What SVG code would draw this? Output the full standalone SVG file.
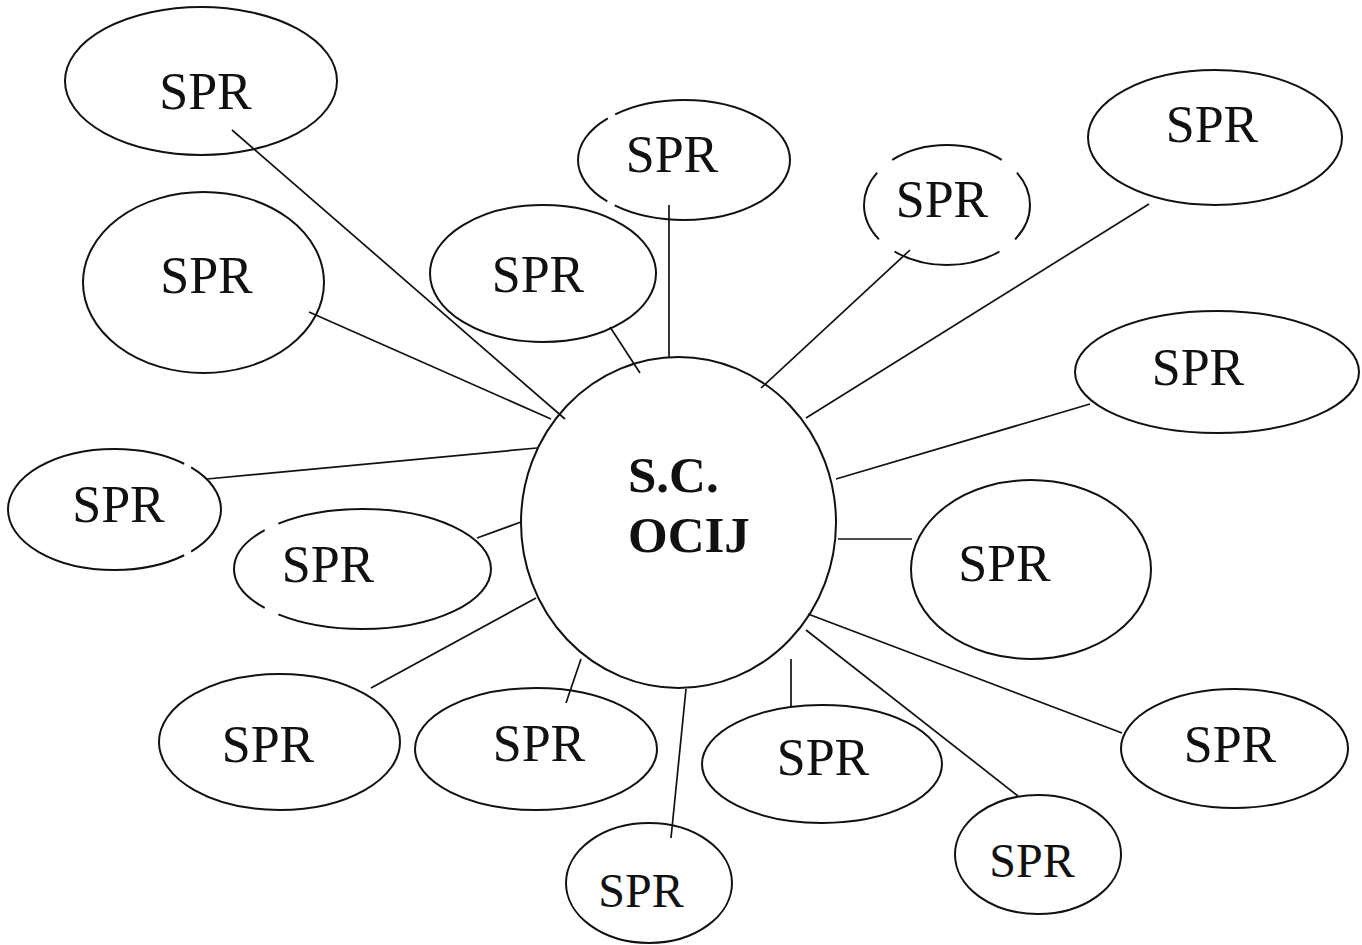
<svg xmlns="http://www.w3.org/2000/svg" width="1362" height="945" viewBox="0 0 1362 945">
<style>
.n{fill:none;stroke:#111;stroke-width:2}
.t{font-family:"Liberation Serif","Times New Roman",serif;font-size:52px;fill:#111;text-anchor:middle}
.s{font-size:48px}
.b{font-weight:bold;font-size:51px;text-anchor:start}
.c line{stroke:#111;stroke-width:1.7}
</style>
<rect width="1362" height="945" fill="#fff"/>
<g class="c" id="connectors">
<line x1="232" y1="130" x2="565" y2="419"/>
<line x1="309" y1="312" x2="551" y2="419"/>
<line x1="207" y1="479" x2="537" y2="448"/>
<line x1="477" y1="538" x2="521" y2="522"/>
<line x1="371" y1="688" x2="536" y2="598"/>
<line x1="581" y1="659" x2="566" y2="703"/>
<line x1="686" y1="689" x2="671" y2="838"/>
<line x1="791" y1="659" x2="791" y2="706"/>
<line x1="806" y1="630" x2="1018" y2="796"/>
<line x1="808" y1="614" x2="1122" y2="733"/>
<line x1="838" y1="539" x2="912" y2="539"/>
<line x1="836" y1="479" x2="1090" y2="404"/>
<line x1="806" y1="418" x2="1149" y2="204"/>
<line x1="761" y1="388" x2="910" y2="250"/>
<line x1="669" y1="205" x2="669" y2="357"/>
<line x1="610" y1="327" x2="640" y2="373"/>
</g>
<g id="center">
<ellipse class="n" cx="678.5" cy="522.5" rx="157.5" ry="165.5"/>
<text class="t b" x="628" y="492">S.C.</text>
<text class="t b" x="628" y="552">OCIJ</text>
</g>
<g id="spr1"><ellipse class="n" cx="201" cy="81" rx="136" ry="74"/><text class="t" x="205.5" y="109">SPR</text></g>
<g id="spr2"><ellipse class="n" cx="203.5" cy="282.5" rx="120.5" ry="90.5"/><text class="t" x="206.5" y="293">SPR</text></g>
<g id="spr3"><ellipse class="n" cx="543" cy="273.5" rx="113" ry="68.5"/><text class="t" x="538" y="292">SPR</text></g>
<g id="spr4"><ellipse class="n" cx="684" cy="160" rx="106" ry="60" pathLength="100" stroke-dasharray="38.4 1.6 20.1 1.6 38.3 0"/><text class="t" x="672" y="172">SPR</text></g>
<g id="spr5"><ellipse class="n" cx="947" cy="205" rx="83" ry="60" pathLength="100" stroke-dasharray="8.5 4.4 24.2 4.4 16.4 4.4 25.4 4.4 7.9 0"/><text class="t" x="942" y="217">SPR</text></g>
<g id="spr6"><ellipse class="n" cx="1215" cy="137.5" rx="127" ry="67.5"/><text class="t" x="1212" y="142">SPR</text></g>
<g id="spr7"><ellipse class="n" cx="1217" cy="372" rx="142" ry="61"/><text class="t" x="1198" y="385">SPR</text></g>
<g id="spr8"><ellipse class="n" cx="1031" cy="569.5" rx="120" ry="89.5"/><text class="t" x="1004.5" y="581">SPR</text></g>
<g id="spr9"><ellipse class="n" cx="1234.5" cy="748.5" rx="113.5" ry="59.5"/><text class="t" x="1230" y="762">SPR</text></g>
<g id="spr10"><ellipse class="n" cx="1038" cy="854.5" rx="83" ry="59.5"/><text class="t s" x="1032" y="877">SPR</text></g>
<g id="spr11"><ellipse class="n" cx="822" cy="764" rx="120" ry="59"/><text class="t" x="823" y="775">SPR</text></g>
<g id="spr12"><ellipse class="n" cx="649" cy="883" rx="83" ry="60"/><text class="t s" x="641" y="907">SPR</text></g>
<g id="spr13"><ellipse class="n" cx="536" cy="749" rx="121" ry="61"/><text class="t" x="539" y="761">SPR</text></g>
<g id="spr14"><ellipse class="n" cx="279.5" cy="742" rx="120.5" ry="68"/><text class="t" x="268" y="762">SPR</text></g>
<g id="spr15"><ellipse class="n" cx="362.5" cy="569" rx="128.5" ry="60" pathLength="100" stroke-dasharray="39 2.5 17 2.5 39 0"/><text class="t" x="328" y="582">SPR</text></g>
<g id="spr16"><ellipse class="n" cx="114.5" cy="509.5" rx="106.5" ry="60.5" pathLength="100" stroke-dasharray="10.1 1.5 76.8 1.5 10.1 0"/><text class="t" x="118.5" y="522">SPR</text></g>
</svg>
